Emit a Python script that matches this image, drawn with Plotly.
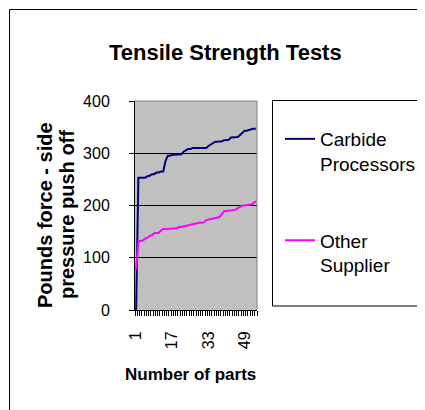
import plotly.graph_objects as go

parts = list(range(1, 55))
carbide = [0, 253, 253, 253, 253, 256, 257, 260, 260, 263, 263, 265, 265, 285, 295, 295,
           297, 297, 297, 297, 298, 303, 306, 308, 308, 310, 310, 310, 310, 310, 310, 310,
           314, 317, 320, 322, 322, 322, 323, 325, 325, 326, 330, 330, 330, 331, 335, 340,
           343, 343, 345, 346, 347, 347]
other = [77, 131, 132, 133, 137, 138, 142, 143, 147, 147, 148, 152, 155, 155, 155, 155,
         156, 156, 157, 159, 159, 160, 161, 162, 164, 164, 165, 166, 167, 167, 168, 172,
         173, 173, 174, 175, 176, 178, 184, 189, 190, 190, 190, 191, 192, 195, 197, 200,
         200, 201, 201, 202, 205, 208]
x_tick_vals = [1, 17, 33, 49]
y_tick_vals = [0, 100, 200, 300, 400]

FONT = "Liberation Sans, Arial, sans-serif"
OFF = 8  # page body margin
W, H = 425 - OFF, 410 - OFF
L, T = 135 - OFF, 101 - OFF
PW, PH = 122, 209
R, B = W - L - PW, H - T - PH

def px(xp):  # page x -> paper
    return (xp - OFF - L) / PW

def py(yp):  # page y -> paper
    return (T + PH - (yp - OFF)) / PH

fig = go.Figure()
fig.add_trace(go.Scatter(x=parts, y=carbide, mode="lines", name="Carbide<br>Processors",
                         line=dict(color="#000080", width=2), legendgroup="a"))
fig.add_trace(go.Scatter(x=parts, y=other, mode="lines", name="Other<br>Supplier",
                         line=dict(color="#FF00FF", width=2), legendgroup="b"))

fig.update_layout(
    width=W, height=H,
    margin=dict(l=L, r=R, t=T, b=B, pad=0, autoexpand=False),
    paper_bgcolor="white",
    plot_bgcolor="#C0C0C0",
    font=dict(family=FONT, color="black", size=16),
    showlegend=True,
    legend=dict(x=px(280), y=py(120), xanchor="left", yanchor="top",
                bgcolor="rgba(0,0,0,0)", borderwidth=0,
                font=dict(family=FONT, size=19, color="black"),
                valign="top", tracegroupgap=49, itemclick=False),
    xaxis=dict(range=[0.5, 54.5], tickmode="array", tickvals=x_tick_vals,
               ticktext=[str(v) for v in x_tick_vals], tickangle=-90,
               ticks="", ticklabelstandoff=14,
               showgrid=False, zeroline=False, showline=True, linecolor="black", linewidth=1,
               tickfont=dict(size=16),
               minor=dict(ticks="outside", ticklen=5, tick0=0.5, dtick=1, tickcolor="black",
                          showgrid=False)),
    yaxis=dict(range=[0, 400], tickmode="array", tickvals=y_tick_vals,
               ticks="outside", ticklen=5, tickcolor="black", ticklabelstandoff=16,
               showgrid=True, gridcolor="black", gridwidth=1, zeroline=False,
               showline=True, linecolor="black", linewidth=1,
               tickfont=dict(size=16)),
    shapes=[
        dict(type="rect", xref="paper", yref="paper", x0=px(9.5), x1=px(440),
             y0=py(430), y1=py(9.5), line=dict(color="black", width=1), layer="below"),
        dict(type="line", xref="x domain", yref="y domain", x0=0, x1=1, y0=1, y1=1,
             line=dict(color="#808080", width=1), layer="above"),
        dict(type="line", xref="x domain", yref="y domain", x0=1, x1=1, y0=0, y1=1,
             line=dict(color="#808080", width=1), layer="above"),
        dict(type="rect", xref="paper", yref="paper", x0=px(272.5), x1=px(440),
             y0=py(306), y1=py(100.5), line=dict(color="black", width=1), layer="below"),
    ],
    annotations=[
        dict(text="<b>Tensile Strength Tests</b>", x=px(225), y=py(52), xref="paper", yref="paper",
             showarrow=False, xanchor="center", yanchor="middle", font=dict(size=22)),
        dict(text="<b>Pounds force - side</b>", x=px(45), y=py(215), xref="paper", yref="paper",
             showarrow=False, textangle=-90, xanchor="center", yanchor="middle", font=dict(size=20)),
        dict(text="<b>pressure push off</b>", x=px(67), y=py(215), xref="paper", yref="paper",
             showarrow=False, textangle=-90, xanchor="center", yanchor="middle", font=dict(size=20)),
        dict(text="<b>Number of parts</b>", x=px(190), y=py(374), xref="paper", yref="paper",
             showarrow=False, xanchor="center", yanchor="middle", font=dict(size=17)),
    ],
)

fig.write_html("out.html")
